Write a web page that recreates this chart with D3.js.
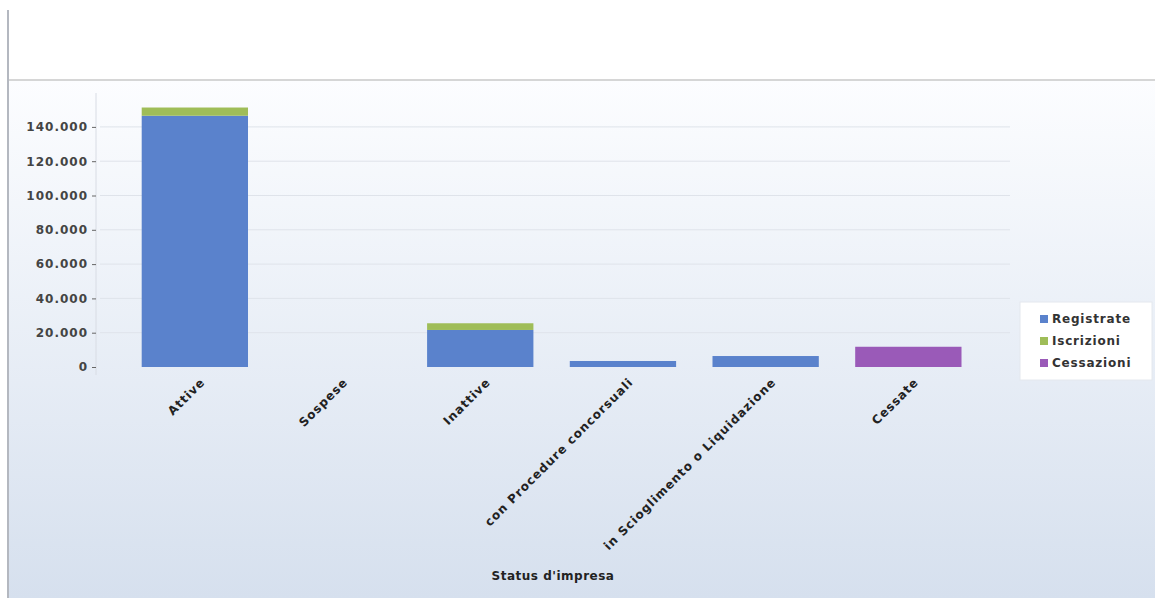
<!DOCTYPE html>
<html>
<head>
<meta charset="utf-8">
<script src="https://cdn.jsdelivr.net/npm/d3@7"></script>
<style>
  body { margin: 0; background: #fff; }
  text { font-family: "DejaVu Sans", sans-serif; font-weight: bold; }
</style>
</head>
<body>
<svg id="chart" width="1155" height="598"></svg>
<script>
// Chart data
const categories = ["Attive", "Sospese", "Inattive", "con Procedure concorsuali", "in Scioglimento o Liquidazione", "Cessate"];
const seriesNames = ["Registrate", "Iscrizioni", "Cessazioni"];
const registrate = [146500, 0, 21600, 3500, 6400, 0];
const iscrizioni = [4800, 0, 3900, 0, 0, 0];
const cessazioni = [0, 0, 0, 0, 0, 11800];
const yTicks = [0, 20000, 40000, 60000, 80000, 100000, 120000, 140000];
const colors = ["#5a82cc", "#9fbd58", "#9a5ab8"];

const svg = d3.select("#chart");
const W = 1155, H = 598;

// background gradient
const defs = svg.append("defs");
const grad = defs.append("linearGradient")
    .attr("id", "bg")
    .attr("x1", 0).attr("y1", 0).attr("x2", 0).attr("y2", 1);
grad.append("stop").attr("offset", "0%").attr("stop-color", "#fcfdff");
grad.append("stop").attr("offset", "100%").attr("stop-color", "#d6e0ee");

svg.append("rect").attr("x", 8).attr("y", 80).attr("width", W - 8).attr("height", H - 80)
    .attr("fill", "url(#bg)");
svg.append("line").attr("x1", 8).attr("x2", W).attr("y1", 80).attr("y2", 80)
    .attr("stroke", "#c8c8c8").attr("stroke-width", 1.5);
svg.append("line").attr("x1", 8).attr("x2", 8).attr("y1", 10).attr("y2", H)
    .attr("stroke", "#b4b8c0").attr("stroke-width", 2);

// scales
const y = d3.scaleLinear().domain([0, 160000]).range([367, 92.6]);
const x = d3.scaleBand().domain(categories)
    .range([123.5, 979.7])
    .paddingInner(0.255).paddingOuter(0.1275);

const it = d3.formatLocale({decimal: ",", thousands: ".", grouping: [3], currency: ["€", ""]});
const fmt = it.format(",d");

// gridlines
svg.append("g").selectAll("line")
    .data(yTicks.slice(1))
    .join("line")
    .attr("x1", 100).attr("x2", 1010)
    .attr("y1", d => y(d)).attr("y2", d => y(d))
    .attr("stroke", "#dfe3ea").attr("stroke-width", 1);

// y axis
const yAxis = svg.append("g")
    .attr("transform", "translate(96,0)")
    .call(d3.axisLeft(y).tickValues(yTicks).tickFormat(fmt).tickSize(4).tickPadding(4));
yAxis.select(".domain").attr("d", "M0,93V375").attr("stroke", "#d8dce4");
yAxis.selectAll(".tick line").attr("stroke", "#666");
yAxis.selectAll(".tick text")
    .attr("fill", "#444")
    .style("font-size", "12px")
    .style("letter-spacing", "1px");

// stacked bars
const rows = categories.map((c, i) => ({
    cat: c, Registrate: registrate[i], Iscrizioni: iscrizioni[i], Cessazioni: cessazioni[i]
}));
const stack = d3.stack().keys(seriesNames)(rows);

svg.append("g").selectAll("g")
    .data(stack)
    .join("g")
    .attr("fill", (d, i) => colors[i])
    .selectAll("rect")
    .data(d => d.filter(s => s[1] - s[0] > 0))
    .join("rect")
    .attr("x", d => x(d.data.cat))
    .attr("width", x.bandwidth())
    .attr("y", d => y(d[1]))
    .attr("height", d => y(d[0]) - y(d[1]));

// x axis
const xAxis = svg.append("g")
    .attr("transform", "translate(0,376)")
    .call(d3.axisBottom(x).tickSize(0).tickPadding(0));
xAxis.select(".domain").remove();
xAxis.selectAll(".tick text")
    .attr("fill", "#222")
    .style("font-size", "12px")
    .style("letter-spacing", "1px")
    .attr("text-anchor", "end")
    .attr("dy", "0.35em")
    .attr("transform", "translate(8,4) rotate(-45)");

// axis title
svg.append("text")
    .attr("x", 553).attr("y", 580)
    .attr("text-anchor", "middle")
    .attr("fill", "#222")
    .style("font-size", "12px")
    .style("letter-spacing", "0.5px")
    .text("Status d'impresa");

// legend
const legend = svg.append("g").attr("transform", "translate(1020,302)");
legend.append("rect").attr("width", 132).attr("height", 78)
    .attr("fill", "#ffffff").attr("stroke", "#e4e8ee");
const items = legend.selectAll("g.item")
    .data(seriesNames)
    .join("g")
    .attr("class", "item")
    .attr("transform", (d, i) => `translate(0,${17 + i * 22})`);
items.append("rect").attr("x", 20).attr("y", -4).attr("width", 8).attr("height", 8)
    .attr("fill", (d, i) => colors[i]);
items.append("text").attr("x", 32).attr("dy", "0.35em")
    .attr("fill", "#333")
    .style("font-size", "12px")
    .style("letter-spacing", "0.8px")
    .text(d => d);
</script>
</body>
</html>
